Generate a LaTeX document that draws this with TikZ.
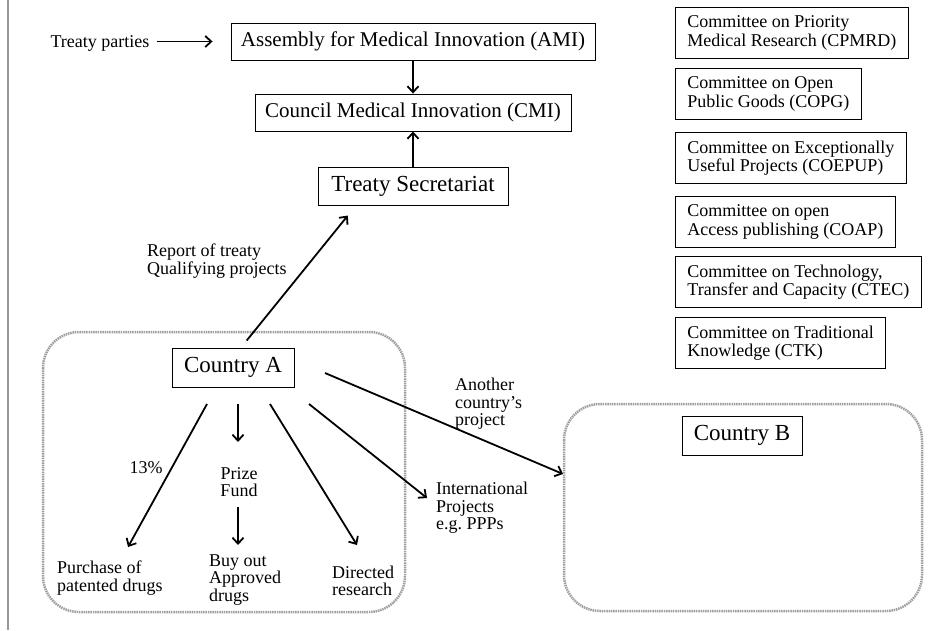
\documentclass[tikz,border=0pt]{standalone}
\usepackage{fontspec}
\setmainfont{Liberation Serif}
\usetikzlibrary{arrows.meta}

\tikzset{
  box/.style={draw, line width=0.9pt},
  bigtext/.style={font=\fontsize{21}{24}\selectfont},
  cntry/.style={font=\fontsize{23}{26}\selectfont},
  small/.style={font=\fontsize{18}{17.5}\selectfont, align=left, inner sep=0pt},
  cmte/.style={draw, line width=0.9pt, font=\fontsize{18}{18.5}\selectfont, align=left,
    anchor=north west, inner xsep=12pt, minimum height=51pt},
  group/.style={draw=gray!75, line width=2.5pt, dash pattern=on 1.5pt off 0.8pt, rounded corners=36pt},
  arr/.style={line width=1.8pt, -{Straight Barb[length=6pt,width=11pt]}},
}

\begin{document}
\begin{tikzpicture}[x=1pt, y=-1pt]
    \useasboundingbox (0,0) rectangle (948,630);

    % Margin line
    \draw[gray!80, line width=2pt] (7.5,0) -- (7.5,630);

    % Countries
    \draw[group] (43,332) rectangle (405,612);
    \draw[group] (564,404) rectangle (922,611);
    \node[box, cntry, minimum width=122pt, minimum height=39pt] (ca) at (233,367.5) {Country A};
    \node[box, cntry, minimum width=120pt, minimum height=39pt] (cb) at (742,435.5) {Country B};

    % Treaty bodies
    \node[small, anchor=base] (tp) at (100,47) {Treaty parties};
    \node[box, bigtext, minimum width=364pt, minimum height=37pt] (ami) at (413,41.5) {Assembly for Medical Innovation (AMI)};
    \node[box, bigtext, minimum width=316pt, minimum height=37pt] (cmi) at (413,112.5) {Council Medical Innovation (CMI)};
    \node[box, cntry, minimum width=190pt, minimum height=38pt] (ts) at (413,186) {Treaty Secretariat};

    % Committees
    \node[cmte] (cpmrd) at (675,7) {Committee on Priority\\Medical Research (CPMRD)};
    \node[cmte] (copg) at (675,68) {Committee on Open\\Public Goods (COPG)};
    \node[cmte] (coepup) at (675,132) {Committee on Exceptionally\\Useful Projects (COEPUP)};
    \node[cmte] (coap) at (675,196) {Committee on open\\Access publishing (COAP)};
    \node[cmte] (ctec) at (675,256) {Committee on Technology,\\Transfer and Capacity (CTEC)};
    \node[cmte] (ctk) at (675,317) {Committee on Traditional\\Knowledge (CTK)};

    % Labels
    \node[small, anchor=west] (report) at (147,261) {Report of treaty\\Qualifying projects};
    \node[small] (pct) at (146,468) {13\%};
    \node[small, align=center] (prize) at (239,482) {Prize\\Fund};
    \node[small, anchor=west] (purchase) at (57,578) {Purchase of\\patented drugs};
    \node[small, anchor=west] (buyout) at (209,580) {Buy out\\Approved\\drugs};
    \node[small, anchor=west] (directed) at (332,581) {Directed\\research};
    \node[small, anchor=west] (intl) at (436,508) {International\\Projects\\e.g.\ PPPs};
    \node[small, anchor=west] (another) at (455,404) {Another\\country’s\\project};

    % Arrow ends
    \coordinate (pur-s) at (207,404);  \coordinate (pur-e) at (128,547);
    \coordinate (pf-s) at (238,404);   \coordinate (pf-e) at (238,442);
    \coordinate (buy-s) at (238,507);  \coordinate (buy-e) at (238,545);
    \coordinate (dir-s) at (270,404);  \coordinate (dir-e) at (357,545);
    \coordinate (int-s) at (309,404);  \coordinate (int-e) at (427,498);
    \coordinate (cb-s) at (325,373);   \coordinate (cb-e) at (563,474);

    % Arrows
    \draw[arr, shorten <=7pt, shorten >=18pt] (tp.east |- ami.west) -- (ami.west);
    \draw[arr] (ami) -- (cmi);
    \draw[arr] (ts) -- (cmi);
    \draw[arr, shorten <=9pt, shorten >=13pt] ([xshift=8pt]ca.north) -- ([xshift=-57pt]ts.south);
    \draw[arr] (pur-s) -- (pur-e);
    \draw[arr] (pf-s) -- (pf-e);
    \draw[arr] (buy-s) -- (buy-e);
    \draw[arr] (dir-s) -- (dir-e);
    \draw[arr] (int-s) -- (int-e);
    \draw[arr] (cb-s) -- (cb-e);
\end{tikzpicture}
\end{document}
